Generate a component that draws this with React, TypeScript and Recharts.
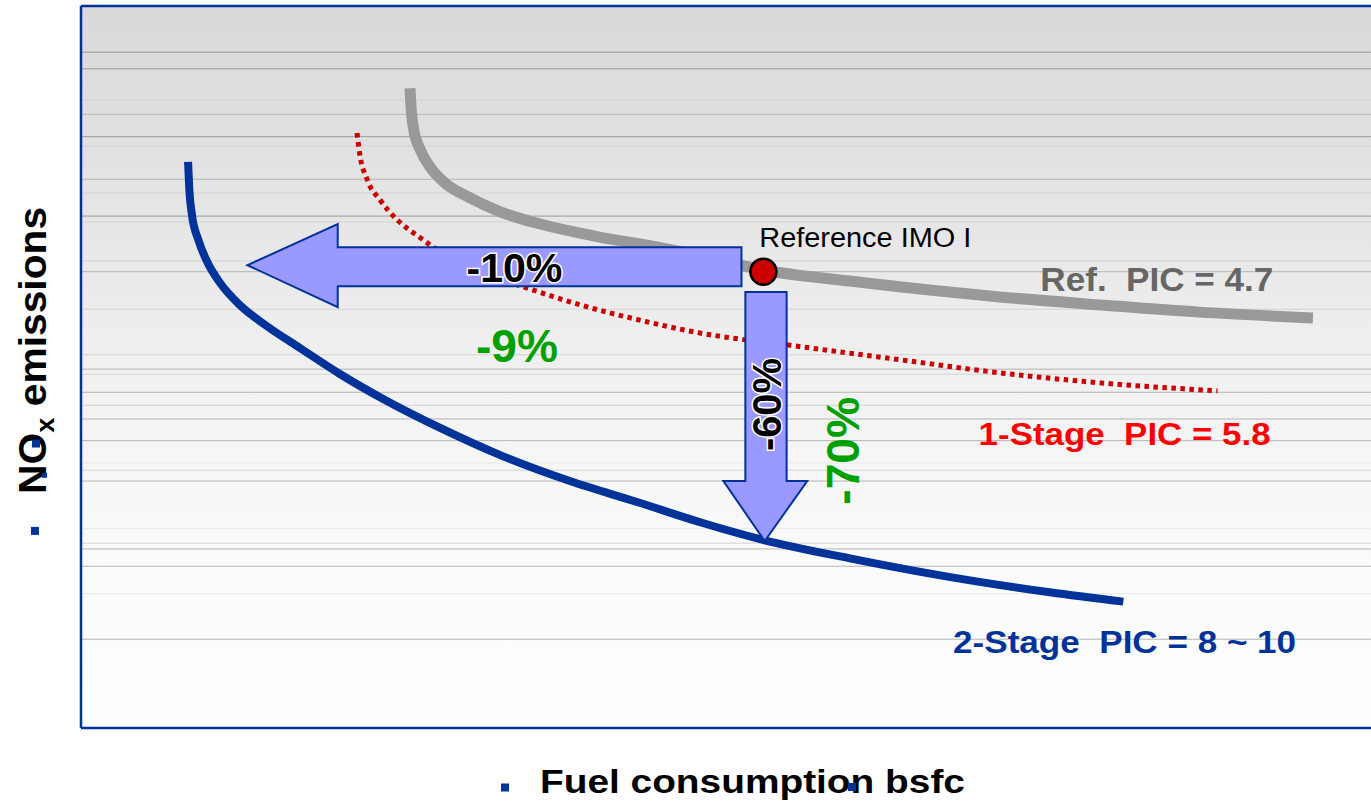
import React from 'react';
import {
  ComposedChart,
  Line,
  XAxis,
  YAxis,
  ReferenceLine,
  ReferenceArea,
  ReferenceDot,
  CartesianGrid,
} from 'recharts';

// ---------- data (arbitrary units: bsfc 0..100, NOx 0..100) ----------
const refPicBsfc = [25.5, 25.6, 25.8, 26.3, 27.1, 28.2, 30.2, 32.5, 35.6, 40.2, 44.1, 48.0, 53.0, 59.6, 71.2, 79.0, 86.7, 95.5];
const refPicNox = [88.6, 85.6, 82.8, 80.1, 77.6, 75.5, 73.4, 71.5, 69.8, 68.0, 66.8, 65.4, 63.4, 61.9, 59.7, 58.6, 57.6, 56.8];

const oneStageBsfc = [21.4, 21.6, 22.2, 23.2, 24.5, 26.3, 28.6, 31.7, 34.3, 38.7, 43.3, 48.0, 55.0, 63.5, 71.2, 79.0, 88.1];
const oneStageNox = [82.4, 79.6, 75.9, 73.1, 70.4, 67.9, 65.1, 62.7, 61.1, 58.6, 56.5, 54.7, 53.0, 51.0, 49.2, 47.8, 46.7];

const twoStageBsfc = [8.3, 8.4, 8.6, 9.1, 9.8, 10.8, 12.3, 14.3, 17.0, 20.1, 23.6, 27.8, 32.5, 37.9, 43.3, 48.0, 53.0, 59.6, 67.4, 75.1, 80.8];
const twoStageNox = [78.4, 74.5, 71.1, 67.6, 64.5, 61.6, 58.6, 55.8, 52.6, 49.0, 45.4, 41.6, 37.8, 34.2, 31.2, 28.5, 26.0, 23.5, 20.9, 18.8, 17.5];

const referencePoint = { bsfc: 52.9, nox: 63.2 };

// background rule lines (NOx values)
const gridDark = [93.6, 91.3, 81.9, 70.9];
const gridMid = [85.0, 76.0, 63.2, 49.7, 46.5, 42.8, 39.8, 34.2, 24.8, 22.4, 12.3];
const gridLight = [87.0, 80.6, 74.1, 70.1, 64.7, 58.0, 51.7, 49.0, 44.7, 35.7, 25.6];
const gridFaint = [36.7, 27.6, 18.6];

// arrows: outline in data units
const leftArrowBox = { x1: 12.9, x2: 51.2, y1: 58.3, y2: 69.8 };
const leftArrowOutline: [number, number][] = [
  [12.9, 64.1], [19.9, 69.8], [19.9, 66.6], [51.2, 66.6], [51.2, 61.2], [19.9, 61.2], [19.9, 58.3],
];
const downArrowBox = { x1: 49.8, x2: 56.3, y1: 25.9, y2: 60.4 };
const downArrowOutline: [number, number][] = [
  [51.5, 60.4], [54.7, 60.4], [54.7, 34.2], [56.3, 34.2], [53.0, 25.9], [49.8, 34.2], [51.5, 34.2],
];

const toPoints = (xs: number[], ys: number[]) => xs.map((x, i) => ({ x, y: ys[i] }));
const refPic = toPoints(refPicBsfc, refPicNox);
const oneStage = toPoints(oneStageBsfc, oneStageNox);
const twoStage = toPoints(twoStageBsfc, twoStageNox);

const FONT = "'Liberation Sans', Arial, Helvetica, sans-serif";
const BLUE = '#003399';
const NB = '\u00a0';

function arrowShape(box: { x1: number; x2: number; y1: number; y2: number }, outline: [number, number][]) {
  return (props: any) => {
    const { x, y, width, height } = props;
    const px = (v: number) => x + ((v - box.x1) / (box.x2 - box.x1)) * width;
    const py = (v: number) => y + ((box.y2 - v) / (box.y2 - box.y1)) * height;
    const pts = outline.map(([a, b]) => `${px(a)},${py(b)}`).join(' ');
    return (
      <polygon points={pts} fill="#9999ff" fillOpacity={1} stroke={BLUE} strokeWidth={2} strokeLinejoin="miter" />
    );
  };
}

type TextSpec = {
  text: string;
  x: number;
  y: number;
  size: number;
  color: string;
  bold?: boolean;
  len?: number;
  rotate?: boolean;
  halo?: boolean;
};

const labels: TextSpec[] = [
  { text: 'Reference IMO I', x: 60.8, y: 66.6, size: 27, color: '#000000', bold: false, len: 212 },
  { text: `Ref. ${NB}PIC = 4.7`, x: 83.4, y: 60.5, size: 33, color: '#666666', bold: true, len: 233 },
  { text: `1-Stage ${NB}PIC = 5.8`, x: 80.9, y: 39.2, size: 32, color: '#ff0000', bold: true, len: 292 },
  { text: `2-Stage ${NB}PIC = 8 ~ 10`, x: 80.9, y: 10.4, size: 32, color: BLUE, bold: true, len: 343 },
  { text: '-10%', x: 33.6, y: 61.8, size: 40, color: '#000000', bold: true, len: 96, halo: true },
  { text: '-9%', x: 33.8, y: 50.7, size: 46, color: '#00a000', bold: true, len: 82 },
  { text: '-60%', x: 54.26, y: 44.8, size: 40, color: '#000000', bold: true, len: 93, rotate: true, halo: true },
  { text: '-70%', x: 60.3, y: 38.4, size: 46, color: '#00a000', bold: true, len: 108, rotate: true },
  { text: 'Fuel consumption bsfc', x: 52.05, y: -9.0, size: 34, color: '#000000', bold: true, len: 425 },
];

const bullets = [
  { x: 32.87, y: -8.24, s: 8 },
  { x: 59.77, y: -8.17, s: 8 },
  { x: -3.49, y: 39.4, s: 8 },
  { x: -2.83, y: 35.0, s: 5 },
  { x: -3.57, y: 27.3, s: 8 },
];

function textShape(spec: TextSpec) {
  return (props: any) => {
    const { cx, cy } = props;
    return (
      <text
        x={cx}
        y={cy}
        textAnchor="middle"
        fontFamily={FONT}
        fontSize={spec.size}
        fontWeight={spec.bold ? 700 : 400}
        fill={spec.color}
        stroke={spec.halo ? '#ffffff' : 'none'}
        strokeWidth={spec.halo ? 3 : 0}
        paintOrder="stroke"
        textLength={spec.len}
        lengthAdjust="spacingAndGlyphs"
        transform={spec.rotate ? `rotate(-90 ${cx} ${cy})` : undefined}
      >
        {spec.text}
      </text>
    );
  };
}

const yTitleShape = (props: any) => {
  const { cx, cy } = props;
  return (
    <text
      x={cx}
      y={cy}
      textAnchor="middle"
      fontFamily={FONT}
      fontSize={39}
      fontWeight={700}
      fill="#000000"
      textLength={287}
      lengthAdjust="spacingAndGlyphs"
      transform={`rotate(-90 ${cx} ${cy})`}
    >
      NO<tspan fontSize={26} dy={8}>x</tspan>
      <tspan dy={-8}>{' emissions'}</tspan>
    </text>
  );
};

const bulletShape = (s: number) => (props: any) => (
  <rect x={props.cx - s / 2} y={props.cy - s / 2} width={s} height={s} fill={BLUE} />
);

export default function App() {
  return (
    <div style={{ position: 'absolute', left: 0, top: 0, width: 1371, height: 804, background: '#ffffff', overflow: 'hidden' }}>
      <svg width={0} height={0} style={{ position: 'absolute' }}>
        <defs>
          <linearGradient id="plotBg" x1="0" y1="0" x2="0" y2="1">
            <stop offset="0" stopColor="#d9d9d9" />
            <stop offset="0.15" stopColor="#dfdfdf" />
            <stop offset="0.3" stopColor="#e6e6e6" />
            <stop offset="0.45" stopColor="#eeeeee" />
            <stop offset="0.6" stopColor="#f5f5f5" />
            <stop offset="0.75" stopColor="#fafafa" />
            <stop offset="0.9" stopColor="#fdfdfd" />
            <stop offset="1" stopColor="#fefefe" />
          </linearGradient>
        </defs>
      </svg>
      <ComposedChart width={1371} height={804} margin={{ top: 6, right: 0, bottom: 76, left: 81 }}>
        <CartesianGrid horizontal={false} vertical={false} fill="url(#plotBg)" fillOpacity={1} />
        <XAxis type="number" dataKey="x" domain={[0, 100]} hide allowDataOverflow />
        <YAxis type="number" dataKey="y" domain={[0, 100]} hide allowDataOverflow />

        {gridFaint.map((v) => (
          <ReferenceLine key={'f' + v} y={v} stroke="#e8e8e8" strokeWidth={1} zIndex={-50} />
        ))}
        {gridLight.map((v) => (
          <ReferenceLine key={'l' + v} y={v} stroke="#d2d2d2" strokeWidth={1} zIndex={-50} />
        ))}
        {gridMid.map((v) => (
          <ReferenceLine key={'m' + v} y={v} stroke="#b4b4b4" strokeWidth={1} zIndex={-50} />
        ))}
        {gridDark.map((v) => (
          <ReferenceLine key={'d' + v} y={v} stroke="#9a9a9a" strokeWidth={1} zIndex={-50} />
        ))}

        <Line data={refPic} dataKey="y" type="monotone" stroke="#999999" strokeWidth={11} dot={false} activeDot={false} isAnimationActive={false} />
        <Line data={oneStage} dataKey="y" type="monotone" stroke="#cc0000" strokeWidth={5} strokeDasharray="4.5 4.5" dot={false} activeDot={false} isAnimationActive={false} />
        <Line data={twoStage} dataKey="y" type="monotone" stroke={BLUE} strokeWidth={8} dot={false} activeDot={false} isAnimationActive={false} />

        <ReferenceArea
          x1={leftArrowBox.x1}
          x2={leftArrowBox.x2}
          y1={leftArrowBox.y1}
          y2={leftArrowBox.y2}
          zIndex={700}
          shape={arrowShape(leftArrowBox, leftArrowOutline)}
        />
        <ReferenceArea
          x1={downArrowBox.x1}
          x2={downArrowBox.x2}
          y1={downArrowBox.y1}
          y2={downArrowBox.y2}
          zIndex={700}
          shape={arrowShape(downArrowBox, downArrowOutline)}
        />

        <ReferenceDot x={referencePoint.bsfc} y={referencePoint.nox} r={13} fill="#cc0000" stroke="#000000" strokeWidth={2.5} zIndex={800} />

        <ReferenceLine y={100} stroke={BLUE} strokeWidth={2.5} zIndex={900} />
        <ReferenceLine y={0} stroke={BLUE} strokeWidth={2.5} zIndex={900} />
        <ReferenceLine x={0} stroke={BLUE} strokeWidth={2.5} zIndex={900} />

        {labels.map((l) => (
          <ReferenceDot key={l.text} x={l.x} y={l.y} r={0} ifOverflow="visible" zIndex={2000} shape={textShape(l)} />
        ))}
        <ReferenceDot x={-2.7} y={52.3} r={0} ifOverflow="visible" zIndex={2000} shape={yTitleShape} />
        {bullets.map((b, i) => (
          <ReferenceDot key={'b' + i} x={b.x} y={b.y} r={0} ifOverflow="visible" zIndex={2100} shape={bulletShape(b.s)} />
        ))}
      </ComposedChart>
    </div>
  );
}
